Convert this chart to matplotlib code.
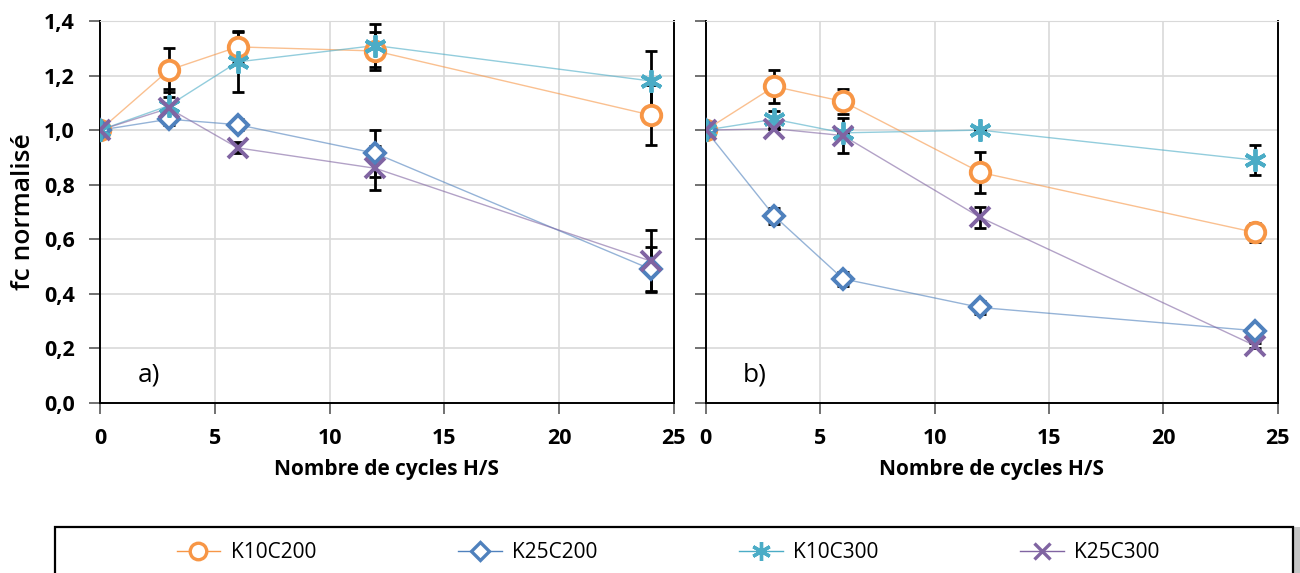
import numpy as np
import matplotlib.pyplot as plt
from matplotlib.lines import Line2D
from matplotlib.patches import Rectangle

plt.rcParams['font.family'] = ['Open Sans', 'DejaVu Sans']

# number of wet/dry cycles
cycles = [0, 3, 6, 12, 24]
series = ['K10C200', 'K25C200', 'K10C300', 'K25C300']

# panel a)
a_K10C200 = [1.00, 1.22, 1.305, 1.29, 1.055]
a_K10C200_err = [0.0, 0.08, 0.06, 0.07, 0.11]
a_K25C200 = [1.00, 1.04, 1.02, 0.915, 0.49]
a_K25C200_err = [0.0, 0.02, 0.02, 0.085, 0.08]
a_K10C300 = [1.00, 1.09, 1.25, 1.31, 1.18]
a_K10C300_err = [0.0, 0.06, 0.11, 0.08, 0.11]
a_K25C300 = [1.00, 1.08, 0.935, 0.86, 0.52]
a_K25C300_err = [0.0, 0.04, 0.02, 0.08, 0.115]

# panel b)
b_K10C200 = [1.00, 1.16, 1.105, 0.845, 0.625]
b_K10C200_err = [0.0, 0.06, 0.045, 0.075, 0.035]
b_K25C200 = [1.00, 0.685, 0.455, 0.35, 0.265]
b_K25C200_err = [0.0, 0.03, 0.025, 0.025, 0.01]
b_K10C300 = [1.00, 1.04, 0.99, 1.00, 0.89]
b_K10C300_err = [0.0, 0.03, 0.0, 0.0, 0.055]
b_K25C300 = [1.00, 1.005, 0.98, 0.68, 0.21]
b_K25C300_err = [0.0, 0.0, 0.065, 0.04, 0.01]

colors = ['#F79646', '#4F81BD', '#4BACC6', '#8064A2']
markers = ['o', 'D', (6, 2, 0), 'x']
msizes = [14, 10.5, 16, 14]

fig = plt.figure(figsize=(13, 5.73), dpi=100)
ax_a = fig.add_axes([0.0769, 0.2967, 0.4415, 0.6667])
ax_b = fig.add_axes([0.5428, 0.2967, 0.4402, 0.6667])

panels = [
    (ax_a, [a_K10C200, a_K25C200, a_K10C300, a_K25C300],
     [a_K10C200_err, a_K25C200_err, a_K10C300_err, a_K25C300_err], 'a)'),
    (ax_b, [b_K10C200, b_K25C200, b_K10C300, b_K25C300],
     [b_K10C200_err, b_K25C200_err, b_K10C300_err, b_K25C300_err], 'b)'),
]

for ax, vals, errs, tag in panels:
    for v, e, c, m, ms in zip(vals, errs, colors, markers, msizes):
        ax.plot(cycles, v, '-', color=c, lw=1.0, alpha=0.6, zorder=2)
        ax.errorbar(cycles, v, yerr=e, fmt='none', ecolor='black',
                    elinewidth=2, capsize=4, capthick=2, zorder=3)
        ax.plot(cycles, v, ls='none', marker=m, ms=ms, mfc='white',
                mec=c, mew=2.8, zorder=4)

    ax.set_xlim(0, 25)
    ax.set_ylim(0, 1.4)
    ax.set_xticks([0, 5, 10, 15, 20, 25])
    ax.set_yticks(np.arange(0, 1.41, 0.2))
    ax.grid(True, color='#d9d9d9', lw=1.2)
    ax.set_axisbelow(True)
    for s in ['left', 'bottom', 'right']:
        ax.spines[s].set_color('black')
        ax.spines[s].set_linewidth(1.4)
    ax.spines['top'].set_color('#d9d9d9')
    ax.tick_params(direction='out', length=8, width=1.2, color='#595959',
                   labelsize=15.5, pad=10)
    for lab in ax.get_xticklabels() + ax.get_yticklabels():
        lab.set_fontweight('bold')
    ax.set_xlabel('Nombre de cycles H/S', fontsize=15, fontweight='bold',
                  labelpad=7)
    ax.text(0.065, 0.055, tag, transform=ax.transAxes, fontsize=19)

ax_a.yaxis.set_major_formatter(
    plt.FuncFormatter(lambda v, p: '{:.1f}'.format(v).replace('.', ',')))
ax_a.set_ylabel('fc normalisé', fontsize=19, fontweight='semibold',
                labelpad=6)
ax_b.tick_params(axis='y', labelleft=False)

# legend frame with shadow
fig.patches.append(Rectangle((0.0465, -0.05), 0.9535, 0.13,
                             transform=fig.transFigure, facecolor='#a0a0a0',
                             edgecolor='none', alpha=0.6, zorder=1))
fig.patches.append(Rectangle((0.0423, -0.04), 0.9523, 0.1203,
                             transform=fig.transFigure, facecolor='white',
                             edgecolor='black', lw=1.6, zorder=2))

handles = [Line2D([], [], color=c, lw=1.0, marker=m, ms=ms * 0.85,
                  mfc='white', mec=c, mew=2.4)
           for c, m, ms in zip(colors, markers, msizes)]
leg = fig.legend(handles, series, loc='center', ncol=4,
                 bbox_to_anchor=(0.514, 0.036), frameon=False,
                 fontsize=15, columnspacing=6.8, handlelength=2.1,
                 handletextpad=0.5)
leg.set_zorder(3)

fig.savefig('out.png', dpi=100)
